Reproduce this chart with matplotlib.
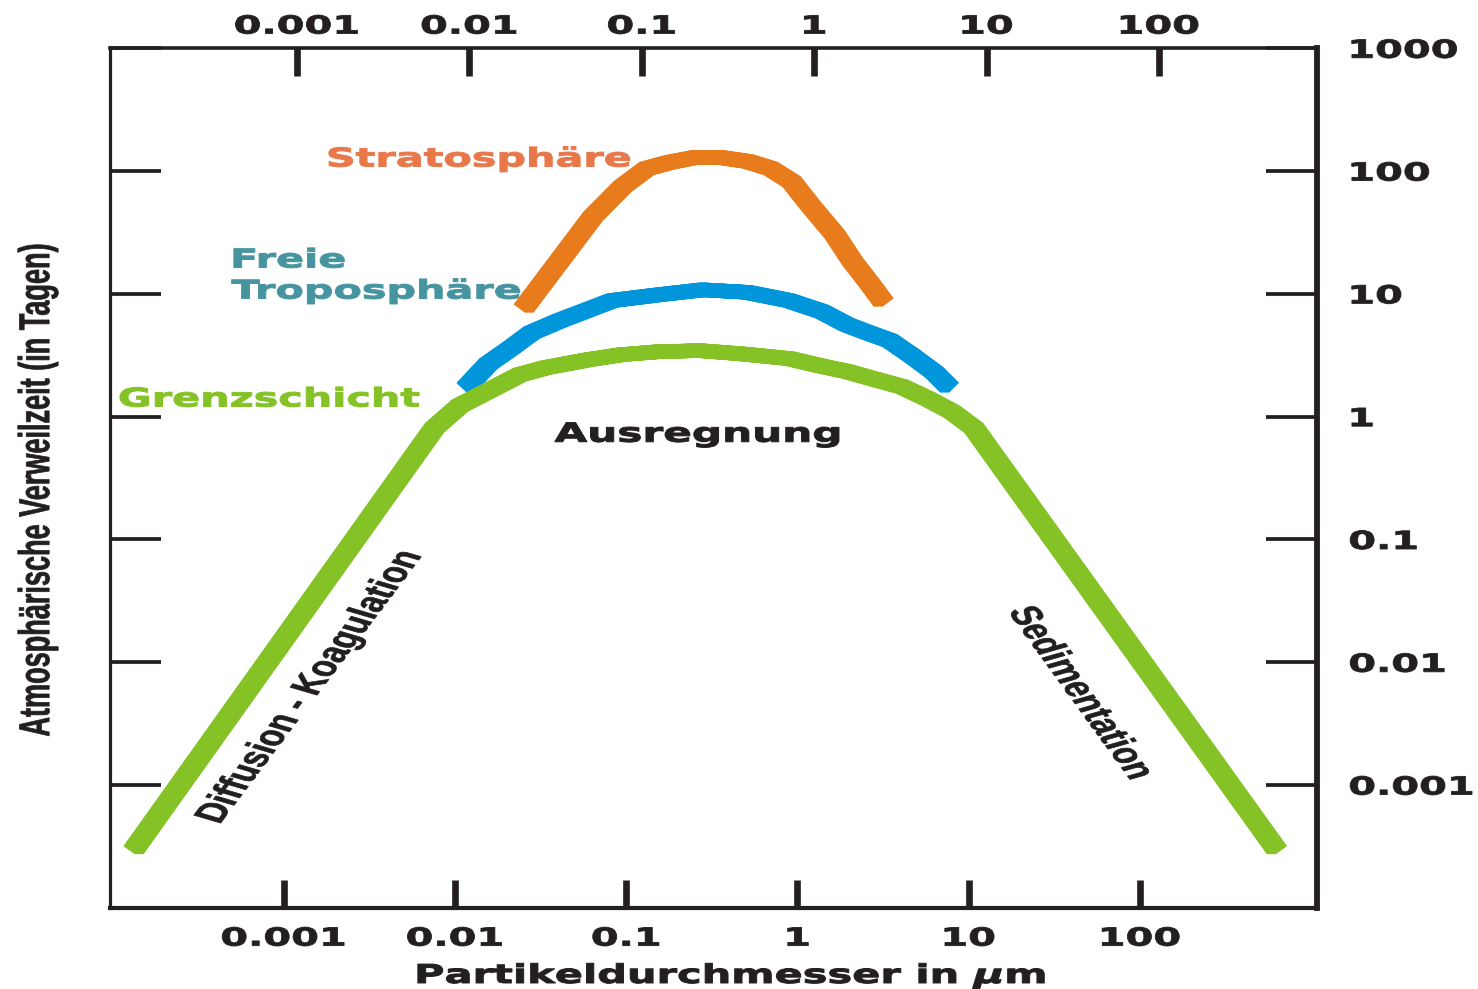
import numpy as np
import matplotlib
matplotlib.use("Agg")
import matplotlib.pyplot as plt
from matplotlib.patheffects import AbstractPathEffect, Stroke
from matplotlib.transforms import Affine2D
from matplotlib.path import Path
from matplotlib.ticker import NullLocator

# ---------------- data (particle diameter in µm, residence time in days) ----
green_x = [1.33e-4, 0.0076, 0.0107, 0.024, 0.034, 0.061, 0.094, 0.157, 0.27,
           0.46, 0.90, 1.35, 1.96, 2.75, 4.06, 5.76, 7.96, 10.7, 630]
green_y = [2.95e-4, 0.81, 1.23, 2.20, 2.51, 2.92, 3.20, 3.39, 3.45,
           3.26, 2.97, 2.60, 2.33, 2.04, 1.76, 1.40, 1.10, 0.81, 2.95e-4]

blue_x = [0.0116, 0.0157, 0.0214, 0.0281, 0.041, 0.083, 0.159, 0.28, 0.51,
          0.89, 1.39, 1.94, 2.57, 3.46, 4.65, 6.33, 7.74]
blue_y = [1.72, 2.70, 3.65, 4.84, 6.06, 8.83, 9.88, 10.8, 10.3,
          8.83, 7.18, 5.62, 4.84, 4.17, 3.14, 2.28, 1.72]

orange_x = [0.0252, 0.064, 0.0955, 0.132, 0.180, 0.251, 0.357, 0.512, 0.698,
            0.925, 1.19, 1.65, 2.10, 2.61, 3.19]
orange_y = [7.6, 42.7, 75, 105, 118, 129, 129, 120, 105,
            82, 52.5, 30.5, 18.3, 12.4, 8.5]

xticks = [0.001, 0.01, 0.1, 1, 10, 100]
xtick_labels = ["0.001", "0.01", "0.1", "1", "10", "100"]
yticks = [0.001, 0.01, 0.1, 1, 10, 100, 1000]
ytick_labels = ["0.001", "0.01", "0.1", "1", "10", "100", "1000"]

# ---------------- style ----------------
W, H = 1478, 989
K = 1.6  # horizontal stretch of the original artwork
BLACK = "#231f20"
GREEN = "#84c225"
BLUE = "#0096db"
ORANGE = "#e87b1c"
ORANGE_TXT = "#e8784a"
TEAL_TXT = "#4694a0"
LW = 10.2

plt.rcParams["font.family"] = ["DejaVu Sans"]
plt.rcParams["font.weight"] = "bold"
plt.rcParams["mathtext.fontset"] = "custom"
plt.rcParams["mathtext.it"] = "DejaVu Sans:italic:bold"
plt.rcParams["mathtext.rm"] = "DejaVu Sans:bold"


class HStretch(AbstractPathEffect):
    """Stretch text glyphs horizontally (display space) about an anchor,
    optionally thickening them with a thin outline of the fill colour."""

    def __init__(self, k=K, anchor="center", heavy=0.0):
        super().__init__()
        self.k = k
        self.anchor = anchor
        self.heavy = heavy

    def draw_path(self, renderer, gc, tpath, affine, rgbFace=None):
        verts = tpath.vertices
        if tpath.codes is not None:
            verts = verts[tpath.codes != Path.CLOSEPOLY]
        if len(verts) == 0:
            renderer.draw_path(gc, tpath, affine, rgbFace)
            return
        disp = affine.transform(verts)
        x0, x1 = disp[:, 0].min(), disp[:, 0].max()
        if self.anchor == "left":
            cx = x0
        elif self.anchor == "right":
            cx = x1
        else:
            cx = 0.5 * (x0 + x1)
        t = affine + Affine2D().translate(-cx, 0).scale(self.k, 1).translate(cx, 0)
        gc0 = renderer.new_gc()
        gc0.copy_properties(gc)
        if self.heavy > 0 and rgbFace is not None:
            gc0.set_linewidth(self.heavy)
            gc0.set_foreground(rgbFace)
            gc0.set_joinstyle("round")
        renderer.draw_path(gc0, tpath, t, rgbFace)
        gc0.restore()


def ribbon(color):
    offs = np.linspace(-3.1, 3.1, 11)
    return [Stroke(offset=(d, 0), foreground=color, linewidth=LW,
                   capstyle="butt", joinstyle="miter") for d in offs]


fig = plt.figure(figsize=(W / 100, H / 100), dpi=100)
L, R, T, B = 110, 1317, 48.3, 907.9
ax = fig.add_axes([L / W, 1 - B / H, (R - L) / W, (B - T) / H])
ax.set_xscale("log")
ax.set_yscale("log")
ax.set_xlim(10 ** -4.013, 10 ** 3.033)
ax.set_ylim(1e-4, 1e3)

# curves
for xs, ys, c in [(blue_x, blue_y, BLUE), (green_x, green_y, GREEN),
                  (orange_x, orange_y, ORANGE)]:
    ax.plot(xs, ys, color=c, lw=LW, solid_capstyle="butt",
            solid_joinstyle="miter", path_effects=ribbon(c), zorder=3)

# bottom / right axes
ax.set_xticks(xticks, labels=xtick_labels)
ax.set_yticks(yticks, labels=ytick_labels)
ax.xaxis.set_minor_locator(NullLocator())
ax.yaxis.set_minor_locator(NullLocator())
ax.tick_params(axis="x", which="major", bottom=True, top=False, direction="in",
               length=20, width=4.8, pad=13.5, labelsize=18, colors=BLACK)
ax.tick_params(axis="y", which="major", left=True, right=True, labelleft=False,
               labelright=True, direction="in", length=37, width=2.7, pad=23,
               labelsize=18, colors=BLACK)
for t in ax.xaxis.get_major_ticks():
    t.label1.set_path_effects([HStretch(anchor="center", heavy=0.6)])
for t in ax.yaxis.get_major_ticks():
    t.label2.set_path_effects([HStretch(anchor="left", heavy=0.6)])

for side, w in [("left", 2.3), ("right", 4.2), ("top", 2.6), ("bottom", 3.0)]:
    ax.spines[side].set_linewidth(w)
    ax.spines[side].set_color(BLACK)

# top axis (its own, slightly shifted scale)
ax2 = ax.twiny()
ax2.set_xscale("log")
ax2.set_xlim(10 ** -4.084, 10 ** 2.917)
ax2.set_xticks(xticks, labels=xtick_labels)
ax2.xaxis.set_minor_locator(NullLocator())
ax2.tick_params(axis="x", which="major", top=True, bottom=False, labeltop=True,
                labelbottom=False, direction="in", length=20, width=4.8, pad=7,
                labelsize=18, colors=BLACK)
for sp in ax2.spines.values():
    sp.set_visible(False)
for t in ax2.xaxis.get_major_ticks():
    t.label2.set_path_effects([HStretch(anchor="center", heavy=0.6)])

# annotations
def note(x, y, s, color, ha="left", anchor="left", size=18.6, **kw):
    ax.text(x, y, s, color=color, ha=ha, va="baseline", fontsize=size,
            fontweight="bold", zorder=2,
            path_effects=[HStretch(anchor=anchor, heavy=0.7)], **kw)

note(0.01387, 109, "Stratosphäre", ORANGE_TXT, ha="center", anchor="center")
note(4.97e-4, 16.4, "Freie", TEAL_TXT)
note(4.97e-4, 9.16, "Troposphäre", TEAL_TXT)
note(1.09e-4, 1.21, "Grenzschicht", GREEN)
note(0.262, 0.625, "Ausregnung", BLACK, ha="center", anchor="center", size=19)

cond = dict(family=["Liberation Sans", "DejaVu Sans"], fontweight="bold",
            fontsize=19.5, color=BLACK, ha="center", va="center",
            rotation_mode="anchor", zorder=2)
ax.text(1.42e-3, 6.3e-3, "Diffusion - Koagulation", rotation=64.8,
        path_effects=[HStretch(anchor="center", heavy=0.5)], **cond)
ax.text(44.5, 5.6e-3, "Sedimentation", rotation=-65.6,
        path_effects=[HStretch(anchor="center", heavy=0.5)], **cond)

fig.text(38 / W, 1 - 490 / H, "Atmosphärische Verweilzeit (in Tagen)",
         rotation=90, ha="center", va="center", color=BLACK,
         family=["Liberation Sans", "DejaVu Sans"], fontweight="bold",
         fontsize=19.5, path_effects=[HStretch(anchor="center", heavy=0.5)])
fig.text(731 / W, 1 - 983 / H, r"Partikeldurchmesser in $\mu$m",
         ha="center", va="baseline", color=BLACK, fontsize=18.7,
         fontweight="bold", path_effects=[HStretch(anchor="center", heavy=0.7)])

fig.savefig("out.png", dpi=100)
